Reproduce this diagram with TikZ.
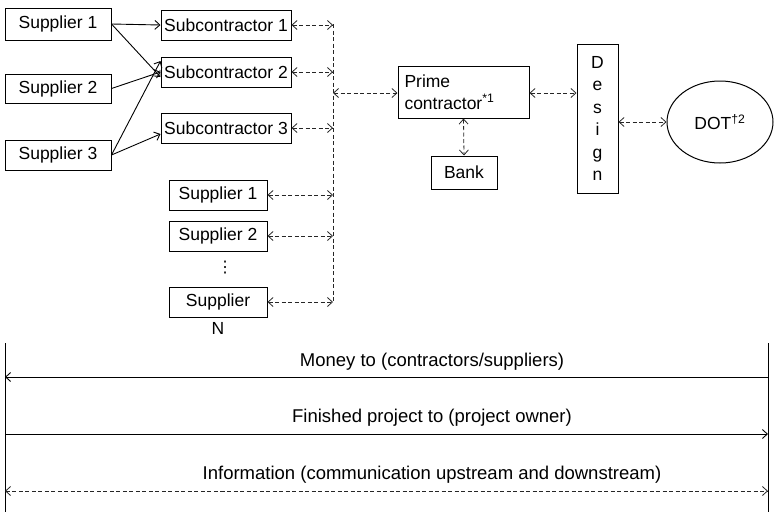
\documentclass[tikz,border=0pt]{standalone}
\usepackage{fontspec}
\setmainfont{Liberation Sans}
\newfontfamily\dejavufont{DejaVu Sans}
\usetikzlibrary{arrows.meta,shapes.geometric}
\begin{document}
\begin{tikzpicture}[x=1pt,y=-1pt,
  box/.style={draw=black,line width=1pt,inner sep=0pt,font=\fontsize{17.5}{20}\selectfont},
  solidarrow/.style={draw=black,line width=0.9pt,-{Straight Barb[length=5pt,width=9pt]}},
  dasharrow/.style={draw=black!85,line width=0.8pt,dash pattern=on 4pt off 2.5pt,{Straight Barb[length=5pt,width=9pt]}-{Straight Barb[length=5pt,width=9pt]}},
  dashline/.style={draw=black!85,line width=0.8pt,dash pattern=on 4pt off 2.5pt},
  flowlabel/.style={font=\fontsize{18.5}{21}\selectfont,inner sep=0pt}
]
\useasboundingbox (0,0) rectangle (774,512);

% left column suppliers
\node[box,minimum width=106pt,minimum height=32pt] (S1) at (58,24) {Supplier 1};
\node[box,minimum width=106pt,minimum height=29pt] (S2) at (58,88.5) {Supplier 2};
\node[box,minimum width=106pt,minimum height=30pt] (S3) at (58,155) {Supplier 3};

% subcontractors
\node[box,minimum width=130pt,minimum height=30pt] (Sub1) at (226,25) {Subcontractor 1};
\node[box,minimum width=130pt,minimum height=30pt] (Sub2) at (226,72) {Subcontractor 2};
\node[box,minimum width=130pt,minimum height=30pt] (Sub3) at (226,128) {Subcontractor 3};

% direct suppliers
\node[box,minimum width=98pt,minimum height=30pt] (L1) at (218,195) {Supplier 1};
\node[box,minimum width=98pt,minimum height=30pt] (L2) at (218,236) {Supplier 2};
\node[font=\dejavufont\fontsize{16}{18}\selectfont,inner sep=0pt] (dots) at (225,268) {⋮};
\node[box,minimum width=98pt,minimum height=30pt] (LN) at (218,302) {Supplier};
\node[font=\fontsize{17.5}{20}\selectfont,inner sep=0pt] (Nlab) at (218,328) {N};

% prime, bank, design, DOT
\node[box,minimum width=131pt,minimum height=52pt,align=left,text width=118pt,font=\fontsize{17.5}{22}\selectfont] (Prime) at (463.5,92) {Prime\\contractor\textsuperscript{*1}};
\node[box,minimum width=66pt,minimum height=33pt] (Bank) at (464,172.5) {Bank};
\node[box,minimum width=41pt,minimum height=149pt,align=center,font=\fontsize{17.5}{22.5}\selectfont] (Design) at (597.5,118.5) {D\\e\\s\\i\\g\\n};
\node[box,ellipse,minimum width=106pt,minimum height=82pt] (DOT) at (720,122) {DOT\textsuperscript{†2}};

% dashed collector line
\coordinate (VT) at (333,24);
\coordinate (VB) at (333,302);
\draw[dashline] (VT) -- (VB);

% solid supplier arrows
\draw[solidarrow] (S1.east) -- (Sub1.west);
\draw[solidarrow] (S1.east) -- ([yshift=-5pt]Sub2.west);
\draw[solidarrow] (S2.east) -- (Sub2.west);
\draw[solidarrow] (S3.east) -- ([yshift=11pt]Sub2.west);
\draw[solidarrow] (S3.east) -- ([yshift=-6pt]Sub3.west);

% dashed two-way arrows to collector
\draw[dasharrow] (Sub1.east) -- (VT |- Sub1.east);
\draw[dasharrow] (Sub2.east) -- (VT |- Sub2.east);
\draw[dasharrow] (Sub3.east) -- (VT |- Sub3.east);
\draw[dasharrow] (L1.east) -- (VT |- L1.east);
\draw[dasharrow] (L2.east) -- (VT |- L2.east);
\draw[dasharrow] (LN.east) -- (VT |- LN.east);
\draw[dasharrow] ([yshift=-1pt]VT |- Prime.west) -- ([yshift=-1pt]Prime.west);
\draw[dasharrow] ([yshift=-1pt]Prime.east) -- ([yshift=-1pt]Design.west |- Prime.east);
\draw[dasharrow] (Prime.south) -- (Bank.north);
\draw[dasharrow] (Design.east |- DOT.west) -- (DOT.west);

% bottom flows
\coordinate (LT) at (5,343);
\coordinate (LB) at (5,512);
\coordinate (RT) at (768,343);
\coordinate (RB) at (768,512);
\draw[line width=1pt] (LT) -- (LB);
\draw[line width=1pt] (RT) -- (RB);

\draw[solidarrow] (RT |- 0,377) -- (LT |- 0,377);
\node[flowlabel] (money) at (432,362) {Money to (contractors/suppliers)};
\draw[solidarrow] (LT |- 0,434) -- (RT |- 0,434);
\node[flowlabel] (finished) at (432,418) {Finished project to (project owner)};
\draw[dasharrow] (LT |- 0,491) -- (RT |- 0,491);
\node[flowlabel] (info) at (432,475) {Information (communication upstream and downstream)};
\end{tikzpicture}
\end{document}
